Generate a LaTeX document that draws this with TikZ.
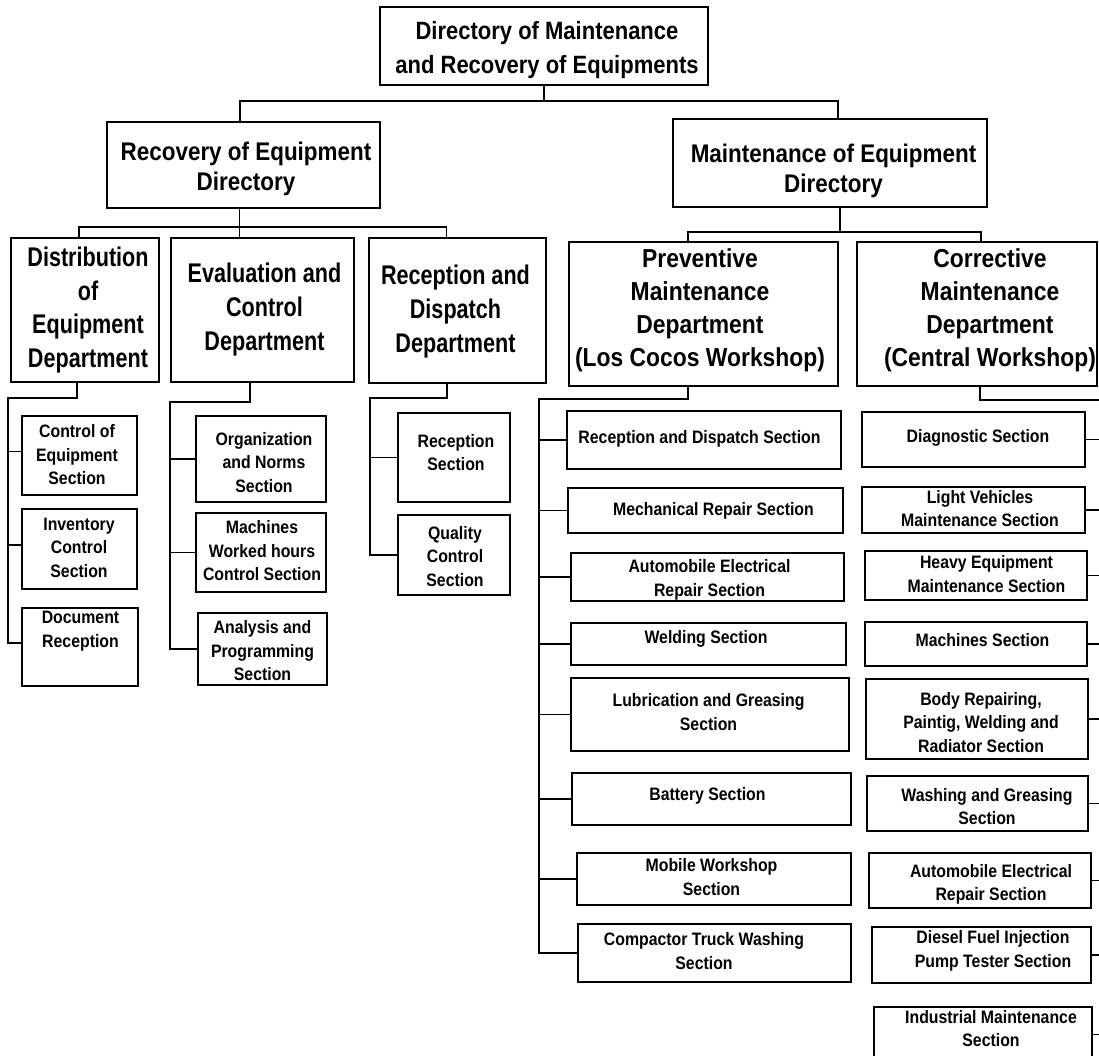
\documentclass[tikz,border=0pt]{standalone}
\usepackage{fontspec}
\setmainfont{Liberation Sans}[FakeStretch=0.88]
\newfontfamily\condfont{Liberation Sans}[FakeStretch=0.8]
\usetikzlibrary{calc}
\tikzset{
  box/.style={draw, line width=1.3pt, inner sep=0pt},
  conn/.style={line width=1.3pt},
  tx/.style={align=center, inner sep=0pt},
  ttop/.style={tx, font=\fontsize{25}{34}\selectfont\bfseries},
  tdir/.style={tx, font=\fontsize{25.5}{30}\selectfont\bfseries},
  tdepL/.style={tx, font=\condfont\fontsize{27}{33.7}\selectfont\bfseries},
  tdepR/.style={tx, font=\fontsize{26}{33}\selectfont\bfseries},
  tsec/.style={tx, font=\fontsize{18}{23.5}\selectfont\bfseries},
}
% name, x1, y1, x2, y2, text x, text y, text style, text
\newcommand\Bx[9]{%
  \node[box, minimum width={(#4-#2)*1pt}, minimum height={(#5-#3)*1pt}] (#1) at ({(#2+#4)/2},{(#3+#5)/2}) {};
  \node[#8] (#1-t) at (#6,#7) {#9};}
\begin{document}
\begin{tikzpicture}[x=1pt,y=-1pt]
\fill[white] (0,0) rectangle (1099,1056);
\useasboundingbox (0,0) rectangle (1099,1056);

% level 1 and 2
\Bx{top}{380}{7}{708}{85}{547}{50.5}{ttop}{Directory of Maintenance\\and Recovery of Equipments}
\Bx{rec}{107}{122}{380}{208}{246}{169}{tdir}{Recovery of Equipment\\Directory}
\Bx{mnt}{673}{119}{987}{207}{833.5}{171}{tdir}{Maintenance of Equipment\\Directory}

% level 3
\Bx{dis}{11}{238}{159}{382}{88}{310}{tdepL}{Distribution\\of\\Equipment\\Department}
\Bx{eva}{171}{238}{354}{382}{264.5}{309.5}{tdepL}{Evaluation and\\Control\\Department}
\Bx{rdd}{369}{238}{546}{383}{455.5}{311.5}{tdepL}{Reception and\\Dispatch\\Department}
\Bx{prv}{569}{242}{838}{386}{700}{310}{tdepR}{Preventive\\Maintenance\\Department\\(Los Cocos Workshop)}
\Bx{cor}{857}{242}{1097}{386}{990}{310}{tdepR}{Corrective\\Maintenance\\Department\\(Central Workshop)}

% distribution sections
\Bx{ctrl}{22}{416}{137}{495}{77}{455}{tsec}{Control of\\Equipment\\Section}
\Bx{inv}{22}{509}{137}{589}{79}{547.5}{tsec}{Inventory\\Control\\Section}
\Bx{doc}{22}{608}{138}{686}{80.5}{631}{tsec}{Document\\Reception}

% evaluation sections
\Bx{org}{196}{416}{326}{502}{264}{462.5}{tsec}{Organization\\and Norms\\Section}
\Bx{mach}{196}{513}{326}{592}{262}{551}{tsec}{Machines\\Worked hours\\Control Section}
\Bx{ana}{198}{613}{327}{685}{262.5}{651}{tsec}{Analysis and\\Programming\\Section}

% reception sections
\Bx{recs}{398}{413}{510}{502}{456}{452.5}{tsec}{Reception\\Section}
\Bx{qual}{398}{515}{510}{595}{455}{556.5}{tsec}{Quality\\Control\\Section}

% preventive sections
\Bx{rds}{567}{411}{841}{469}{699.5}{438.4}{tsec}{Reception and Dispatch Section}
\Bx{mech}{568}{488}{843}{533}{713.5}{511}{tsec}{Mechanical Repair Section}
\Bx{aers}{571}{553}{844}{601}{709.5}{579.9}{tsec}{Automobile Electrical\\Repair Section}
\Bx{weld}{571}{623}{846}{665}{706}{638.4}{tsec}{Welding Section}
\Bx{lub}{571}{678}{849}{751}{708.5}{712}{tsec}{Lubrication and Greasing\\Section}
\Bx{bat}{572}{773}{851}{825}{707.5}{795.4}{tsec}{Battery Section}
\Bx{mob}{577}{853}{851}{905}{711.5}{877}{tsec}{Mobile Workshop\\Section}
\Bx{comp}{578}{924}{851}{982}{704}{951}{tsec}{Compactor Truck Washing\\Section}

% corrective sections
\Bx{diag}{862}{412}{1085}{467}{978}{437.4}{tsec}{Diagnostic Section}
\Bx{light}{862}{487}{1085}{533}{980}{508.5}{tsec}{Light Vehicles\\Maintenance Section}
\Bx{heavy}{865}{551}{1087}{600}{986.5}{574}{tsec}{Heavy Equipment\\Maintenance Section}
\Bx{machs}{865}{622}{1087}{666}{982.5}{640.5}{tsec}{Machines Section}
\Bx{body}{866}{679}{1088}{759}{981}{722.5}{tsec}{Body Repairing,\\Paintig, Welding and\\Radiator Section}
\Bx{wash}{867}{776}{1088}{831}{987}{806.5}{tsec}{Washing and Greasing\\Section}
\Bx{aelec}{869}{853}{1091}{908}{991}{884.4}{tsec}{Automobile Electrical\\Repair Section}
\Bx{dies}{872}{927}{1091}{983}{993}{951}{tsec}{Diesel Fuel Injection\\Pump Tester Section}
\Bx{ind}{874}{1007}{1092}{1062}{991}{1028.5}{tsec}{Industrial Maintenance\\Section}

% junction coordinates
\coordinate (j0) at (542,101);
\coordinate (j1) at (240,227);
\coordinate (j2) at (840,232);
\coordinate (tD) at (8,398);
\coordinate (tE) at (170,402);
\coordinate (tR) at (370,398);
\coordinate (tP) at (539,399);
\coordinate (tC) at (1100.5,400);

% connectors level 1-2
\draw[conn] (top.south) -- (top.south |- j0);
\draw[conn] ([xshift=-3.5]rec.north) |- (j0) -| ([xshift=8]mnt.north);

% recovery -> departments
\draw[conn] ([xshift=-4]rec.south) -- ([xshift=-4]rec.south |- eva.north);
\draw[conn] ([xshift=-6]dis.north) |- (j1) -| ([xshift=-11]rdd.north);

% maintenance -> departments
\draw[conn] ([xshift=10]mnt.south) -- (j2);
\draw[conn] ([xshift=-15.5]prv.north) |- (j2) -| ([xshift=4]cor.north);

% distribution
\draw[conn] ([xshift=-8]dis.south) |- (tD) |- ([yshift=4]doc.west);
\draw[conn] ([yshift=4]ctrl.west) -- ([yshift=4]ctrl.west -| tD);
\draw[conn] ([yshift=4]inv.west) -- ([yshift=4]inv.west -| tD);

% evaluation
\draw[conn] ([xshift=-12.5]eva.south) |- (tE) |- (ana.west);
\draw[conn] (tE |- org.west) -- (org.west);
\draw[conn] (tE |- mach.west) -- (mach.west);

% reception
\draw[conn] ([xshift=-10.5]rdd.south) |- (tR) |- (qual.west);
\draw[conn] (tR |- recs.west) -- (recs.west);

% preventive
\draw[conn] ([xshift=-15.5]prv.south) |- (tP) |- (comp.west);
\foreach \n in {rds,mech,aers,weld,lub,bat,mob}
  \draw[conn] (tP |- \n.west) -- (\n.west);

% corrective
\draw[conn] ([xshift=3]cor.south) |- (tC) |- (ind.east);
\foreach \n in {diag,light,heavy,machs,body,wash,aelec,dies}
  \draw[conn] (\n.east) -- (tC |- \n.east);
\end{tikzpicture}
\end{document}
